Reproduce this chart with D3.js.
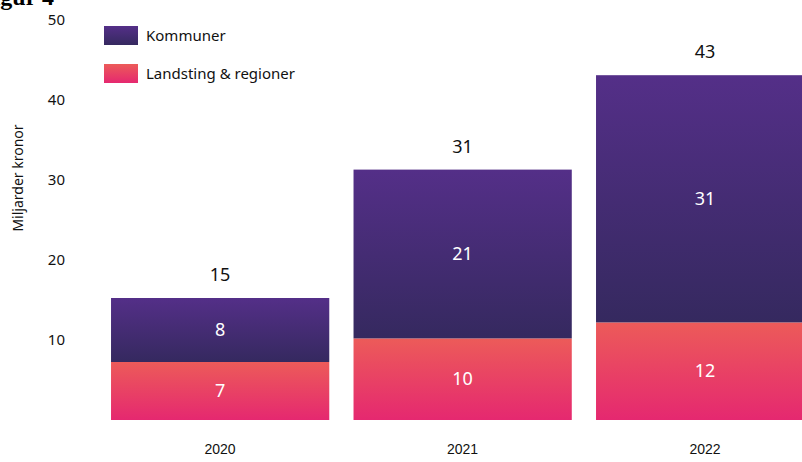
<!DOCTYPE html>
<html>
<head>
<meta charset="utf-8">
<script src="https://cdn.jsdelivr.net/npm/d3@7"></script>
<style>
  body { margin: 0; background: #fff; }
  text { font-family: "Noto Sans", sans-serif; }
</style>
</head>
<body>
<svg width="802" height="462"></svg>
<script>
// Data (miljarder kronor)
var years = ["2020", "2021", "2022"];
var landsting = [7.25, 10.2, 12.2];
var kommuner = [8, 21.1, 30.9];
var seriesNames = ["Kommuner", "Landsting & regioner"];
var yTicks = [10, 20, 30, 40, 50];

var svg = d3.select("svg");

var x = d3.scaleBand()
    .domain(years)
    .range([98.9, 826.4])
    .paddingInner(0.1)
    .paddingOuter(0.05);

var y = d3.scaleLinear()
    .domain([0, 50])
    .range([420, 20]);

// gradients
var defs = svg.append("defs");
function grad(id, top, bottom) {
    var g = defs.append("linearGradient").attr("id", id)
        .attr("x1", 0).attr("y1", 0).attr("x2", 0).attr("y2", 1);
    g.append("stop").attr("offset", "0%").attr("stop-color", top);
    g.append("stop").attr("offset", "100%").attr("stop-color", bottom);
}
grad("gradK", "#542f88", "#35295f");
grad("gradL", "#ec5b59", "#e52870");

// title fragment clipped at top-left
svg.append("text")
    .attr("x", -21).attr("y", 5)
    .style("font-family", "'Liberation Serif', serif")
    .style("font-weight", "bold")
    .style("font-size", "24px")
    .text("Figur 4");

// y axis (labels only)
var yAxis = d3.axisLeft(y).tickValues(yTicks).tickSize(0).tickPadding(0);
var gy = svg.append("g").attr("transform", "translate(65,0)").call(yAxis);
gy.select(".domain").remove();
gy.selectAll("text")
    .style("font-family", "'Noto Sans', sans-serif")
    .style("font-size", "15px")
    .attr("fill", "#111");

svg.append("text")
    .attr("transform", "translate(23,178) rotate(-90)")
    .attr("text-anchor", "middle")
    .style("font-size", "14px")
    .attr("fill", "#111")
    .text("Miljarder kronor");

// stacked bars
var rows = years.map(function (yr, i) {
    return { year: yr, landsting: landsting[i], kommuner: kommuner[i] };
});
var stack = d3.stack().keys(["landsting", "kommuner"])(rows);

svg.append("g")
    .selectAll("g")
    .data(stack)
    .enter()
    .append("g")
    .attr("fill", function (d) { return d.key == "kommuner" ? "url(#gradK)" : "url(#gradL)"; })
    .selectAll("rect")
    .data(function (d) { return d; })
    .enter()
    .append("rect")
    .attr("x", function (d) { return x(d.data.year); })
    .attr("y", function (d) { return y(d[1]); })
    .attr("width", x.bandwidth())
    .attr("height", function (d) { return y(d[0]) - y(d[1]); });

// inner labels
stack.forEach(function (s) {
    svg.append("g")
        .selectAll("text")
        .data(s)
        .enter()
        .append("text")
        .attr("x", function (d) { return x(d.data.year) + 109; })
        .attr("y", function (d) { return (y(d[0]) + y(d[1])) / 2 + 6; })
        .attr("text-anchor", "middle")
        .attr("fill", "#fff")
        .style("font-size", "18px")
        .text(function (d) { return Math.round(d[1] - d[0]); });
});

// totals
svg.append("g")
    .selectAll("text")
    .data(rows)
    .enter()
    .append("text")
    .attr("x", function (d) { return x(d.year) + 109; })
    .attr("y", function (d) { return y(d.landsting + d.kommuner) - 17; })
    .attr("text-anchor", "middle")
    .attr("fill", "#111")
    .style("font-size", "18px")
    .text(function (d) { return Math.round(d.landsting + d.kommuner); });

// x labels
svg.append("g")
    .selectAll("text")
    .data(years)
    .enter()
    .append("text")
    .attr("x", function (d) { return x(d) + 109; })
    .attr("y", 454)
    .attr("text-anchor", "middle")
    .attr("fill", "#111")
    .style("font-family", "'Liberation Sans', sans-serif")
    .style("font-size", "14px")
    .text(function (d) { return d; });

// legend
var legend = svg.append("g").selectAll("g")
    .data(seriesNames)
    .enter()
    .append("g")
    .attr("transform", function (d, i) { return "translate(104," + (26 + i * 38) + ")"; });
legend.append("rect")
    .attr("width", 34).attr("height", 19)
    .attr("fill", function (d, i) { return i == 0 ? "url(#gradK)" : "url(#gradL)"; });
legend.append("text")
    .attr("x", 42).attr("y", 15)
    .attr("fill", "#111")
    .style("font-size", "15px")
    .text(function (d) { return d; });
</script>
</body>
</html>
